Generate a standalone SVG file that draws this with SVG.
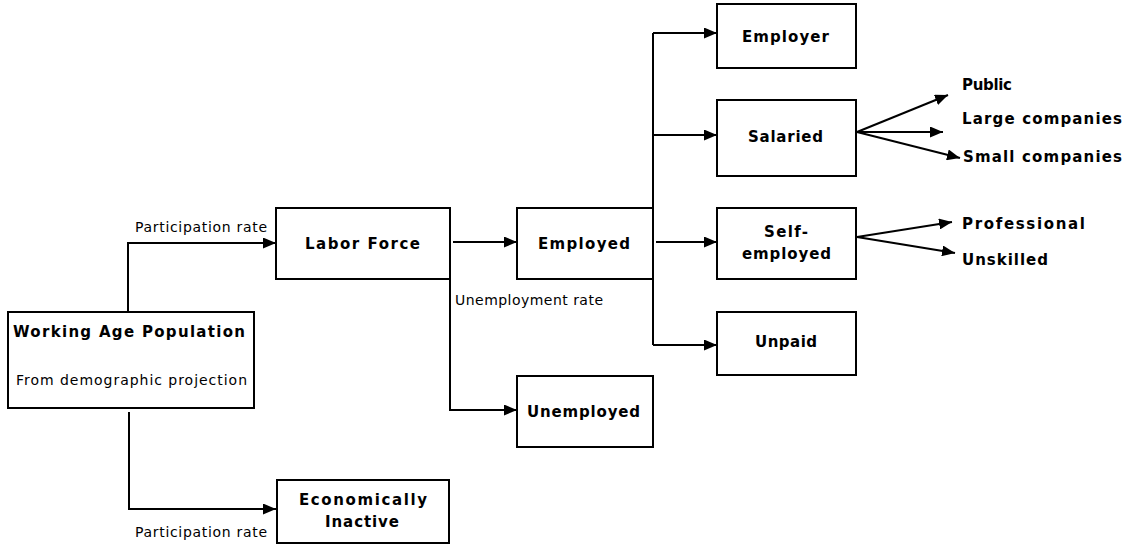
<svg xmlns="http://www.w3.org/2000/svg" width="1128" height="545" viewBox="0 0 1128 545">
  <style>
    .box { fill: #ffffff; stroke: #000000; stroke-width: 2; }
    .title { font-family: "DejaVu Sans", "Liberation Sans", sans-serif; font-weight: bold; font-size: 15px; fill: #000000; }
    .note { font-family: "DejaVu Sans", "Liberation Sans", sans-serif; font-size: 14px; fill: #000000; }
    .wire { fill: none; stroke: #000000; stroke-width: 2; }
  </style>
  <defs>
    <marker id="arrow" markerUnits="userSpaceOnUse" markerWidth="13" markerHeight="11" refX="13" refY="5.5" orient="auto">
      <path d="M0,0 L13,5.5 L0,11 z" fill="#000000"/>
    </marker>
  </defs>
  <rect width="1128" height="545" fill="#ffffff"/>

  <!-- connectors -->
  <g id="connectors">
    <path class="wire" d="M128,312 V243 H276" marker-end="url(#arrow)"/>
    <path class="wire" d="M129,412 V509 H276" marker-end="url(#arrow)"/>
    <path class="wire" d="M453,242 H517" marker-end="url(#arrow)"/>
    <path class="wire" d="M450,279 V410 H517" marker-end="url(#arrow)"/>
    <path class="wire" d="M653,33 V345"/>
    <path class="wire" d="M653,33 H717" marker-end="url(#arrow)"/>
    <path class="wire" d="M653,135 H717" marker-end="url(#arrow)"/>
    <path class="wire" d="M656,242 H717" marker-end="url(#arrow)"/>
    <path class="wire" d="M653,345 H717" marker-end="url(#arrow)"/>
    <path class="wire" d="M857,132 L948,95" marker-end="url(#arrow)"/>
    <path class="wire" d="M857,132 H943" marker-end="url(#arrow)"/>
    <path class="wire" d="M857,132 L960,158" marker-end="url(#arrow)"/>
    <path class="wire" d="M857,237 L952,222" marker-end="url(#arrow)"/>
    <path class="wire" d="M857,237 L955,253" marker-end="url(#arrow)"/>
    <text class="note" x="135" y="232" textLength="132" lengthAdjust="spacing">Participation rate</text>
    <text class="note" x="135" y="537" textLength="132" lengthAdjust="spacing">Participation rate</text>
    <text class="note" x="455" y="305" textLength="148" lengthAdjust="spacing">Unemployment rate</text>
  </g>

  <g id="working-age">
    <rect class="box" x="8" y="312" width="246" height="96"/>
    <text class="title" x="13" y="337" textLength="232" lengthAdjust="spacing">Working Age Population</text>
    <text class="note" x="16" y="385" textLength="231" lengthAdjust="spacing">From demographic projection</text>
  </g>

  <g id="labor-force">
    <rect class="box" x="276" y="208" width="174" height="71"/>
    <text class="title" x="305" y="249" textLength="115" lengthAdjust="spacing">Labor Force</text>
  </g>

  <g id="inactive">
    <rect class="box" x="277" y="480" width="172" height="63"/>
    <text class="title" x="299" y="505" textLength="128" lengthAdjust="spacing">Economically</text>
    <text class="title" x="325" y="527" textLength="74" lengthAdjust="spacing">Inactive</text>
  </g>

  <g id="employed">
    <rect class="box" x="517" y="208" width="136" height="71"/>
    <text class="title" x="538" y="249" textLength="92" lengthAdjust="spacing">Employed</text>
  </g>

  <g id="unemployed">
    <rect class="box" x="517" y="376" width="136" height="71"/>
    <text class="title" x="527" y="417" textLength="113" lengthAdjust="spacing">Unemployed</text>
  </g>

  <g id="employer">
    <rect class="box" x="717" y="4" width="139" height="64"/>
    <text class="title" x="742" y="42" textLength="87" lengthAdjust="spacing">Employer</text>
  </g>

  <g id="salaried">
    <rect class="box" x="717" y="100" width="139" height="76"/>
    <text class="title" x="748" y="142" textLength="75" lengthAdjust="spacing">Salaried</text>
  </g>

  <g id="self-employed">
    <rect class="box" x="717" y="208" width="139" height="71"/>
    <text class="title" x="764" y="237" textLength="44" lengthAdjust="spacing">Self-</text>
    <text class="title" x="742" y="259" textLength="89" lengthAdjust="spacing">employed</text>
  </g>

  <g id="unpaid">
    <rect class="box" x="717" y="312" width="139" height="63"/>
    <text class="title" x="755" y="347" textLength="62" lengthAdjust="spacing">Unpaid</text>
  </g>

  <g id="salaried-types">
    <text class="title" x="962" y="90" textLength="50" lengthAdjust="spacing">Public</text>
    <text class="title" x="962" y="124" textLength="160" lengthAdjust="spacing">Large companies</text>
    <text class="title" x="963" y="162" textLength="159" lengthAdjust="spacing">Small companies</text>
  </g>

  <g id="self-employed-types">
    <text class="title" x="962" y="229" textLength="123" lengthAdjust="spacing">Professional</text>
    <text class="title" x="962" y="265" textLength="86" lengthAdjust="spacing">Unskilled</text>
  </g>
</svg>
